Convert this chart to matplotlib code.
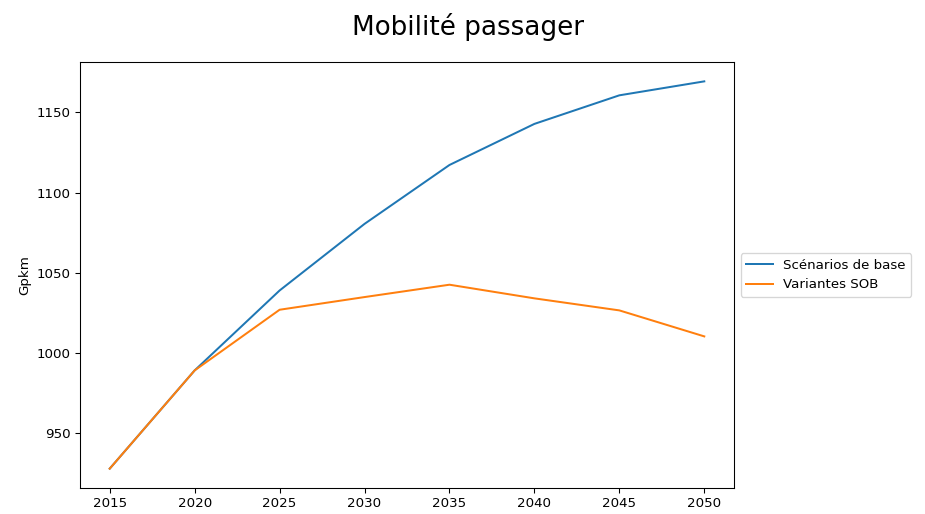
import matplotlib
matplotlib.use("Agg")
import matplotlib.pyplot as plt

years = [2015, 2020, 2025, 2030, 2035, 2040, 2045, 2050]
base = [928.0, 989.2, 1039.0, 1080.5, 1117.2, 1142.8, 1160.6, 1169.3]
sob = [928.0, 989.2, 1027.0, 1034.9, 1042.6, 1034.1, 1026.6, 1010.4]
labels = ["Scénarios de base", "Variantes SOB"]
title = "Mobilité passager"
ylabel = "Gpkm"

dpi = 96
fig = plt.figure(figsize=(925 / dpi, 514 / dpi), dpi=dpi)
ax = fig.add_axes([80 / 925, 1 - 488 / 514, (734 - 80) / 925, (488 - 62) / 514])
ax.plot(years, base, color="#1f77b4", label=labels[0])
ax.plot(years, sob, color="#ff7f0e", label=labels[1])
ax.set_ylabel(ylabel)
ax.set_xticks(years)
ax.set_yticks([950, 1000, 1050, 1100, 1150])
fig.text(468 / 925, 1 - 27 / 514, title, fontsize=19.7, ha="center", va="center")
ax.legend(loc="center left", bbox_to_anchor=(1.0, 0.5))
fig.savefig("out.png", dpi=dpi)
